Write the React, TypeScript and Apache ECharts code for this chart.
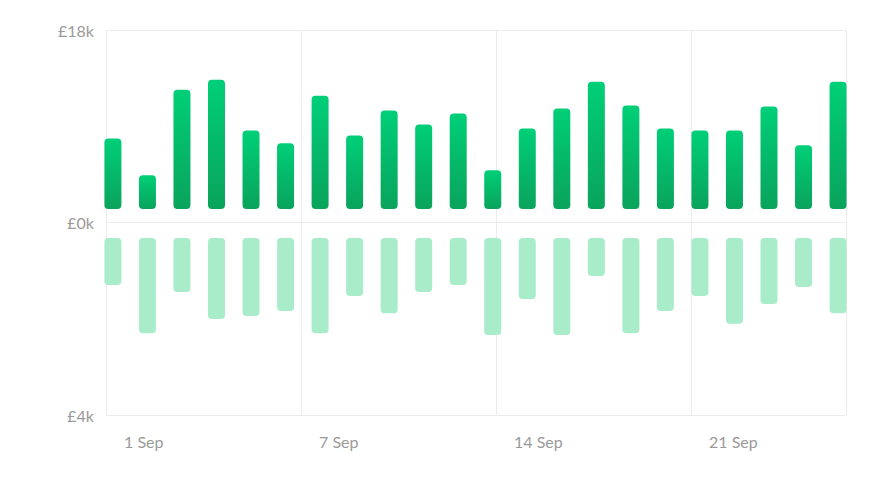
import { useEffect, useRef } from "react";
import * as echarts from "echarts";

const incomeK = [7.1, 3.4, 12.0, 13.0, 7.9, 6.6, 11.4, 7.4, 9.9, 8.5, 9.6, 3.9, 8.1, 10.1, 12.8, 10.4, 8.1, 7.9, 7.9, 10.3, 6.4, 12.8];
const spendK = [1.06, 2.15, 1.22, 1.83, 1.76, 1.65, 2.15, 1.31, 1.7, 1.22, 1.06, 2.19, 1.38, 2.19, 0.86, 2.15, 1.65, 1.31, 1.94, 1.49, 1.11, 1.7];
const yTickLabels = ["£4k", "£0k", "£18k"];
const dateLabels = ["1 Sep", "7 Sep", "14 Sep", "21 Sep"];

export default function App() {
  const chartRef = useRef<HTMLDivElement>(null);

  useEffect(() => {
    if (!chartRef.current) return;
    document.body.style.margin = "0";
    const chart = echarts.init(chartRef.current, null, { renderer: "svg" });

    const label = { color: "#9a9a9a", fontSize: 16, fontFamily: "Lato" };
    const barX = { type: "value" as const, min: -0.2, max: 21.23, show: false };

    chart.setOption({
      animation: false,
      grid: [
        { left: 106, right: 30, top: 30, height: 385 },
        { left: 106, right: 30, top: 30, height: 179 },
        { left: 106, right: 30, top: 238, height: 177 },
      ],
      xAxis: [
        {
          gridIndex: 0,
          type: "value",
          min: 0,
          max: 740,
          interval: 195,
          axisLine: { show: false },
          axisTick: { show: false },
          splitLine: { show: true, lineStyle: { color: "#ececec" } },
          axisLabel: {
            ...label,
            align: "left",
            margin: 18,
            padding: [0, 0, 0, 18],
            formatter: (v: number) => dateLabels[Math.round(v / 195)] ?? "",
          },
        },
        { ...barX, gridIndex: 1 },
        { ...barX, gridIndex: 2 },
      ],
      yAxis: [
        {
          gridIndex: 0,
          type: "value",
          min: 0,
          max: 2,
          interval: 1,
          axisLine: { show: false },
          axisTick: { show: false },
          splitLine: { show: true, lineStyle: { color: "#ececec" } },
          axisLabel: { ...label, margin: 12, formatter: (v: number) => yTickLabels[v] ?? "" },
        },
        { gridIndex: 1, type: "value", min: 0, max: 18, show: false },
        { gridIndex: 2, type: "value", min: 0, max: 4, inverse: true, show: false },
      ],
      series: [
        {
          type: "bar",
          xAxisIndex: 1,
          yAxisIndex: 1,
          barWidth: 17,
          data: incomeK.map((v, i) => [i, v]),
          itemStyle: {
            borderRadius: 4,
            color: new echarts.graphic.LinearGradient(0, 0, 0, 1, [
              { offset: 0, color: "#00cf78" },
              { offset: 1, color: "#0aa35c" },
            ]),
          },
        },
        {
          type: "bar",
          xAxisIndex: 2,
          yAxisIndex: 2,
          barWidth: 17,
          data: spendK.map((v, i) => [i, v]),
          itemStyle: { borderRadius: 4, color: "#a9ecca" },
        },
      ],
    });

    return () => chart.dispose();
  }, []);

  return <div ref={chartRef} style={{ width: 876, height: 490 }} />;
}
